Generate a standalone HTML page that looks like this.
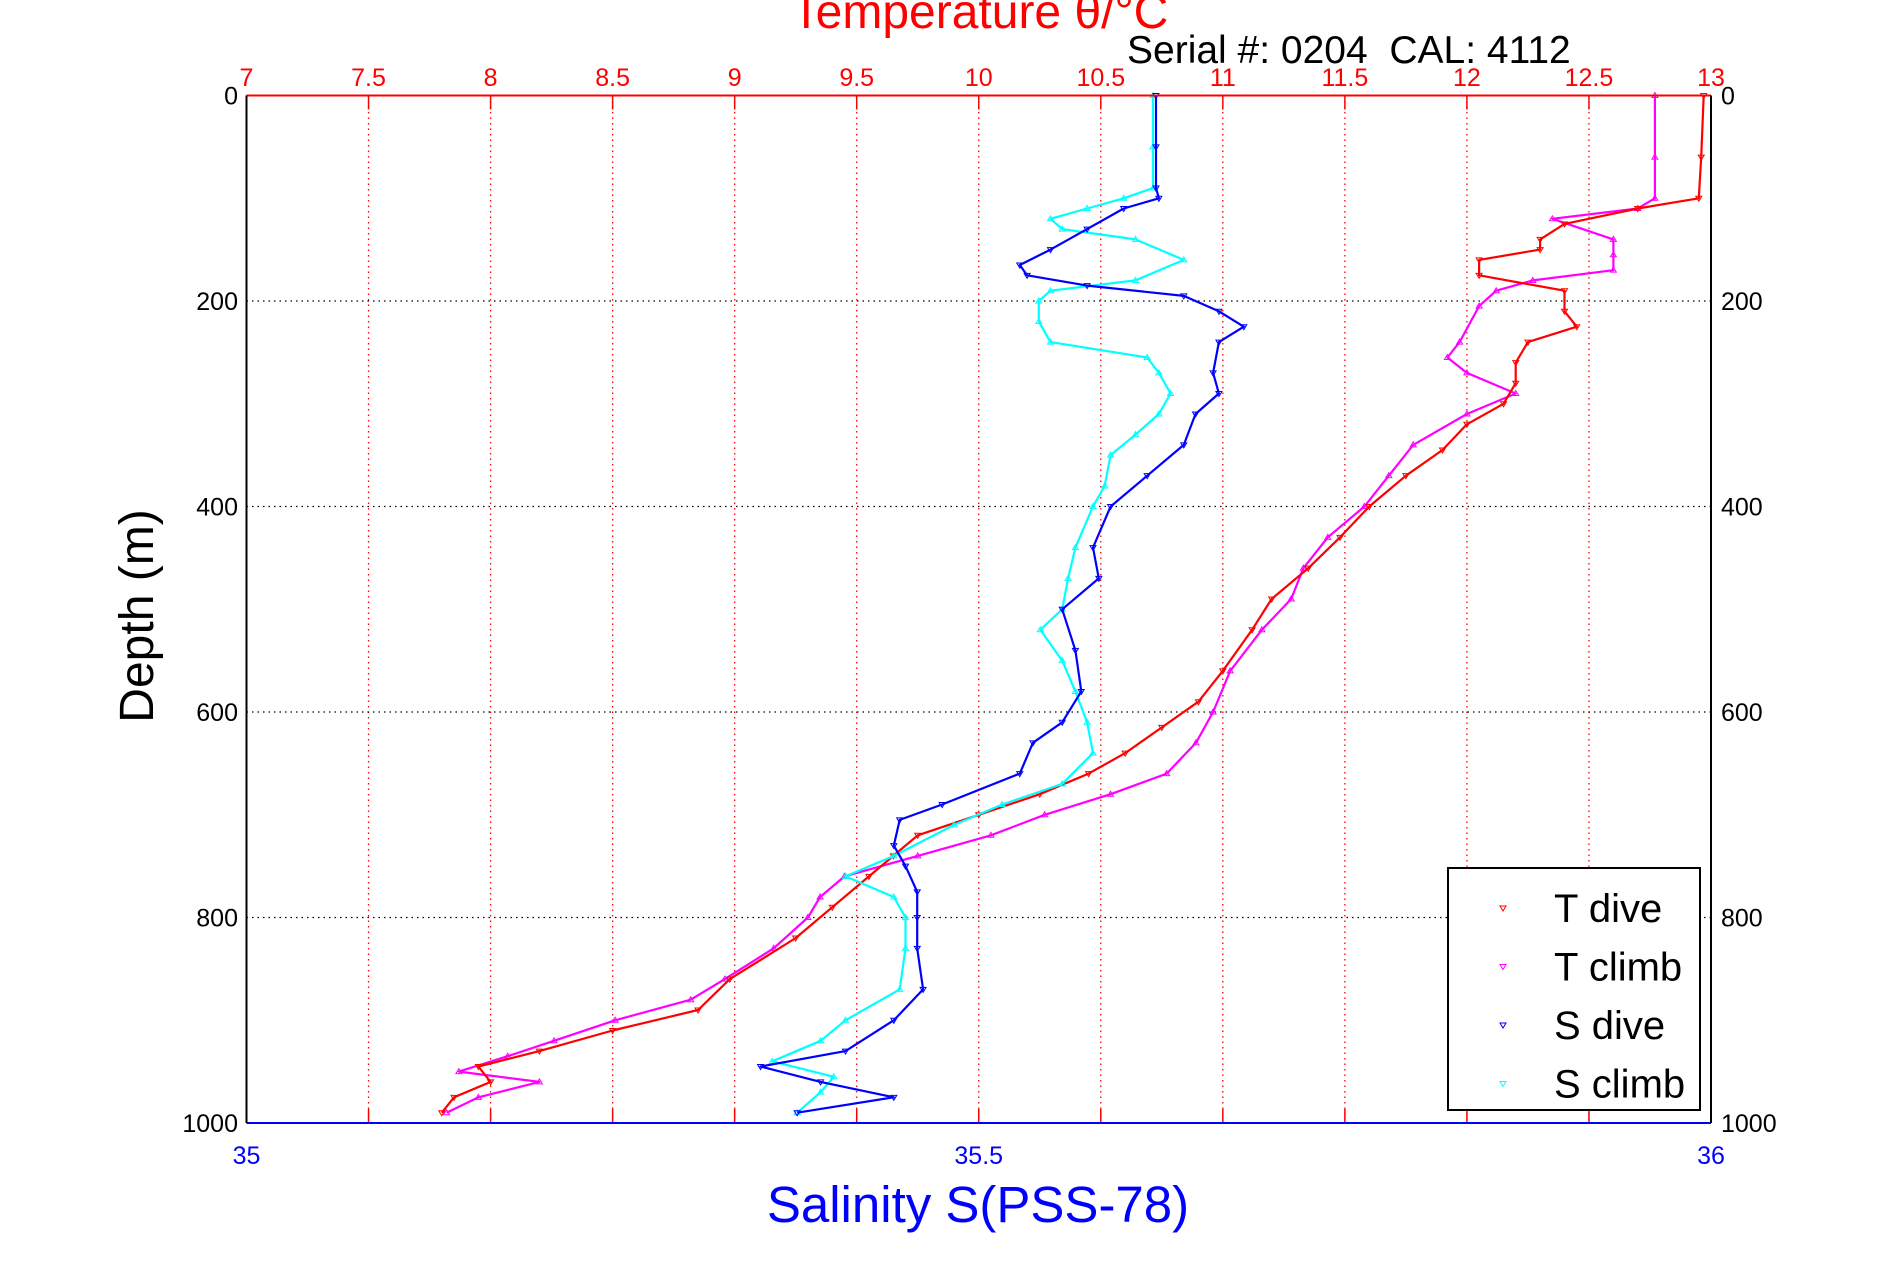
<!DOCTYPE html>
<html><head><meta charset="utf-8"><style>
body{margin:0;background:#fff}
svg{display:block;font-family:"Liberation Sans",sans-serif}
</style></head><body>
<svg id="c" width="1891" height="1262" viewBox="0 0 1891 1262">
<g id="grid"></g>
<g id="marks"></g>
<g id="axes"></g>
<text x="980" y="28" font-size="48" fill="#f00" text-anchor="middle">Temperature θ/°C</text>
<text x="1127" y="63" font-size="39" fill="#000" xml:space="preserve" style="white-space:pre">Serial #: 0204  CAL: 4112</text>
<text x="978" y="1222" font-size="51" fill="#00f" text-anchor="middle">Salinity S(PSS-78)</text>
<text transform="translate(153,616) rotate(-90)" font-size="48" fill="#000" text-anchor="middle">Depth (m)</text>
<g>
<rect x="1448" y="868" width="252" height="242" fill="#fff" stroke="#000" stroke-width="2"/>
<g id="leg"></g>
</g>
</svg>
<script>
const tTicks=[7,7.5,8,8.5,9,9.5,10,10.5,11,11.5,12,12.5,13];
const dTicks=[0,200,400,600,800,1000];
const sTicks=[35,35.5,36];
const tDiveD=[0,60,100,110,125,140,150,160,175,190,210,225,240,260,280,300,320,345,370,400,430,460,490,520,560,590,615,640,660,680,700,720,740,760,790,820,860,890,910,930,945,960,975,990];
const tDiveV=[12.97,12.96,12.95,12.7,12.4,12.3,12.3,12.05,12.05,12.4,12.4,12.45,12.25,12.2,12.2,12.15,12.0,11.9,11.75,11.6,11.48,11.35,11.2,11.12,11.0,10.9,10.75,10.6,10.45,10.25,10.0,9.75,9.65,9.55,9.4,9.25,8.98,8.85,8.5,8.2,7.95,8.0,7.85,7.8];
const tClimbD=[0,60,100,110,120,140,155,170,180,190,205,240,255,270,290,310,340,370,400,430,460,490,520,560,600,630,660,680,700,720,740,760,780,800,830,860,880,900,920,935,950,960,975,990];
const tClimbV=[12.77,12.77,12.77,12.7,12.35,12.6,12.6,12.6,12.27,12.12,12.05,11.97,11.92,12.0,12.2,12.0,11.78,11.68,11.58,11.43,11.33,11.28,11.16,11.03,10.96,10.89,10.77,10.54,10.27,10.05,9.75,9.45,9.35,9.3,9.16,8.96,8.82,8.51,8.26,8.07,7.87,8.2,7.95,7.82];
const sDiveD=[0,50,90,100,110,130,150,165,175,185,195,210,225,240,270,290,310,340,370,400,440,470,500,540,580,610,630,660,690,705,730,750,775,800,830,870,900,930,945,960,975,990];
const sDiveV=[35.621,35.621,35.621,35.623,35.599,35.574,35.549,35.528,35.533,35.574,35.640,35.664,35.681,35.664,35.660,35.664,35.648,35.640,35.615,35.590,35.578,35.582,35.557,35.566,35.570,35.557,35.537,35.528,35.475,35.446,35.442,35.450,35.458,35.458,35.458,35.462,35.442,35.409,35.351,35.392,35.442,35.376];
const sClimbD=[0,50,90,100,110,120,130,140,160,180,190,200,220,240,255,270,290,310,330,350,380,400,440,470,500,520,550,580,610,640,670,690,710,740,760,780,800,830,870,900,920,940,955,970,990];
const sClimbV=[35.619,35.619,35.619,35.599,35.574,35.549,35.557,35.607,35.640,35.607,35.549,35.541,35.541,35.549,35.615,35.623,35.631,35.623,35.607,35.590,35.586,35.578,35.566,35.561,35.557,35.542,35.557,35.566,35.574,35.578,35.557,35.516,35.483,35.442,35.409,35.442,35.450,35.450,35.446,35.409,35.392,35.359,35.401,35.392,35.376];
const L=246.5,R=1711,T=95.5,B=1123;
const xT=v=>L+(v-7)/6*(R-L);
const xS=v=>L+(v-35)*(R-L);
const yD=d=>T+d/1000*(B-T);
const NS='http://www.w3.org/2000/svg';
function mk(tag,attrs,parent,txt){const e=document.createElementNS(NS,tag);for(const k in attrs)e.setAttribute(k,attrs[k]);if(txt!==undefined)e.textContent=txt;document.getElementById(parent).appendChild(e);return e;}
tTicks.forEach(v=>{
  const x=xT(v);
  if(v>7&&v<13){const g=mk('line',{x1:x,x2:x,y1:T,y2:B,stroke:'#f00','stroke-width':1.3,'stroke-dasharray':'1.5 4'},'grid');
  
  
  mk('line',{x1:x,x2:x,y1:T,y2:T+14,stroke:'#f00','stroke-width':1.5},'axes');
  mk('line',{x1:x,x2:x,y1:B,y2:B-14,stroke:'#f00','stroke-width':1.5},'axes');}
  const t=mk('text',{x:x,y:86,'font-size':25,fill:'#f00','text-anchor':'middle'},'axes',String(v));
  
  
});
dTicks.forEach(d=>{
  const y=yD(d);
  if(d>0&&d<1000){const g=mk('line',{x1:L,x2:R,y1:y,y2:y,stroke:'#000','stroke-width':1.2,'stroke-dasharray':'1.5 4'},'grid');
  
  }
  const a=mk('text',{x:238,y:y+9,'font-size':25,'text-anchor':'end'},'axes',String(d));
  
  
  const b=mk('text',{x:1721,y:y+9,'font-size':25},'axes',String(d));
  
  
});
sTicks.forEach(v=>{
  const t=mk('text',{x:xS(v),y:1164,'font-size':25,fill:'#00f','text-anchor':'middle'},'axes',String(v));
  
  
});
mk('line',{x1:L,x2:R,y1:T,y2:T,stroke:'#f00','stroke-width':2},'axes');
mk('line',{x1:L,x2:R,y1:B,y2:B,stroke:'#00f','stroke-width':2},'axes');
mk('line',{x1:L,x2:L,y1:T,y2:B,stroke:'#000','stroke-width':2},'axes');
mk('line',{x1:R,x2:R,y1:T,y2:B,stroke:'#000','stroke-width':2},'axes');
function series(D,V,xf,color,up,name){
  const pts=D.map((d,i)=>xf(V[i]).toFixed(1)+','+yD(d).toFixed(1)).join(' ');
  const pl=mk('polyline',{points:pts,fill:'none',stroke:color,'stroke-width':2.2,'stroke-linejoin':'round'},'marks');
  
  
  D.forEach((d,i)=>{const x=xf(V[i]),y=yD(d);
    const p=up?`${x-3},${y+2} ${x+3},${y+2} ${x},${y-3}`:`${x-3},${y-2} ${x+3},${y-2} ${x},${y+3}`;
    const m=mk('polygon',{points:p,fill:'none',stroke:color,'stroke-width':1},'marks');
    
    });
}
series(tClimbD,tClimbV,xT,'#f0f',true,'t-climb');
series(tDiveD,tDiveV,xT,'#f00',false,'t-dive');
series(sClimbD,sClimbV,xS,'#0ff',true,'s-climb');
series(sDiveD,sDiveV,xS,'#00f',false,'s-dive');
const legNames=['T dive','T climb','S dive','S climb'];
const legColors=['#f00','#f0f','#00f','#0ff'];
legNames.forEach((n,i)=>{const y=908+i*58.5;
  const m=mk('polygon',{points:`1500,${y-2} 1506,${y-2} 1503,${y+3}`,fill:'none',stroke:legColors[i],'stroke-width':1},'leg');
  
  
  const t=mk('text',{x:1554,y:y+14,'font-size':40},'leg',n);
  
  
});
</script>
</body></html>
